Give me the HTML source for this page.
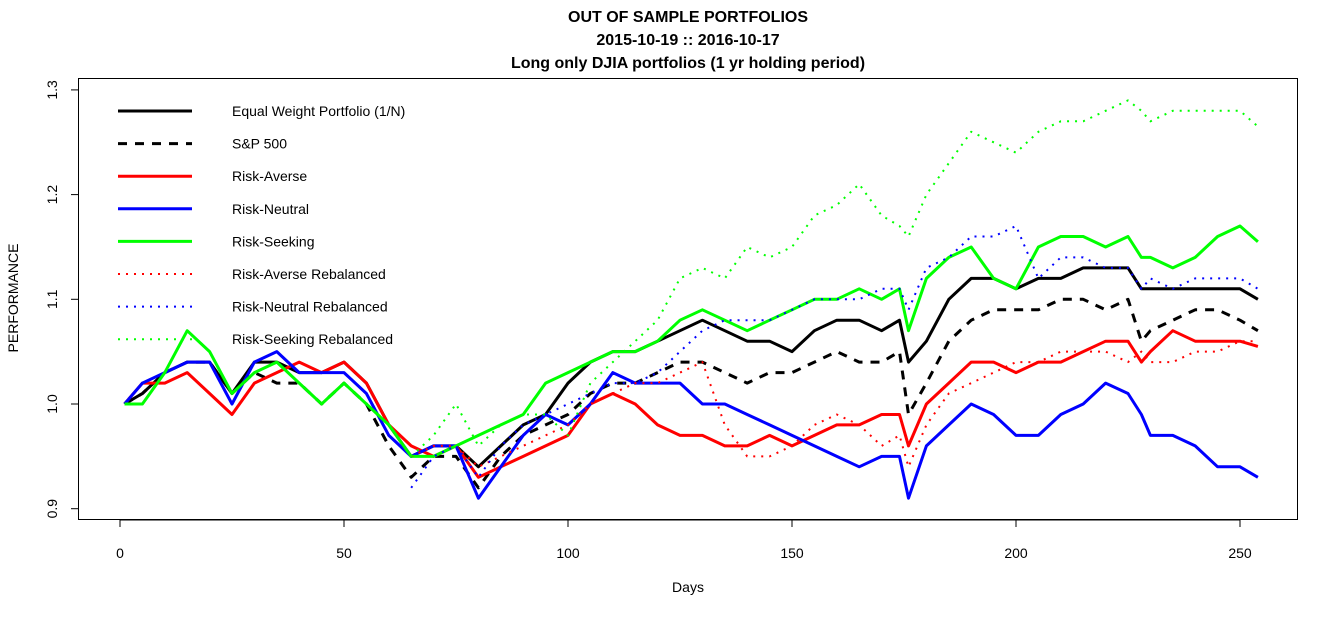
<!DOCTYPE html>
<html><head><meta charset="utf-8"><style>
body{margin:0;background:#fff;font-family:"Liberation Sans",Arial,sans-serif}
svg text{font-family:"Liberation Sans",Arial,sans-serif}
</style></head><body>
<svg id="c" width="1340" height="617" xmlns="http://www.w3.org/2000/svg">
<rect width="1340" height="617" fill="#fff"/>
<g font-weight="bold" font-size="16" text-anchor="middle">
<text x="688" y="22">OUT OF SAMPLE PORTFOLIOS</text>
<text x="688" y="45">2015-10-19 :: 2016-10-17</text>
<text x="688" y="68">Long only DJIA portfolios (1 yr holding period)</text>
</g>
<rect x="78.5" y="78.5" width="1219" height="441" fill="none" stroke="#000" stroke-width="1"/>
<g id="axes"></g>
<g id="series"></g>
<g id="legend"></g>
<text x="688" y="592" font-size="14" text-anchor="middle">Days</text>
<text transform="translate(18,298) rotate(-90)" font-size="14" text-anchor="middle">PERFORMANCE</text>
</svg>
<script>
const days=[1,5,10,15,20,25,30,35,40,45,50,55,60,65,70,75,80,85,90,95,100,105,110,115,120,125,130,135,140,145,150,155,160,165,170,174,176,180,185,190,195,200,205,210,215,220,225,228,230,235,240,245,250,254];
const xTicks=[0,50,100,150,200,250];
const yTicks=[0.9,1.0,1.1,1.2,1.3];
const yTickLabels=["0.9","1.0","1.1","1.2","1.3"];
const eqw=[1.00,1.01,1.03,1.04,1.04,1.01,1.04,1.04,1.03,1.03,1.04,1.02,0.98,0.95,0.96,0.96,0.94,0.96,0.98,0.99,1.02,1.04,1.05,1.05,1.06,1.07,1.08,1.07,1.06,1.06,1.05,1.07,1.08,1.08,1.07,1.08,1.04,1.06,1.10,1.12,1.12,1.11,1.12,1.12,1.13,1.13,1.13,1.11,1.11,1.11,1.11,1.11,1.11,1.10];
const sp500=[1.00,1.01,1.03,1.04,1.04,1.01,1.03,1.02,1.02,1.00,1.02,1.00,0.96,0.93,0.95,0.95,0.92,0.95,0.97,0.98,0.99,1.01,1.02,1.02,1.03,1.04,1.04,1.03,1.02,1.03,1.03,1.04,1.05,1.04,1.04,1.05,0.99,1.02,1.06,1.08,1.09,1.09,1.09,1.10,1.10,1.09,1.10,1.06,1.07,1.08,1.09,1.09,1.08,1.07];
const riskAverse=[1.00,1.02,1.02,1.03,1.01,0.99,1.02,1.03,1.04,1.03,1.04,1.02,0.98,0.96,0.95,0.96,0.93,0.94,0.95,0.96,0.97,1.00,1.01,1.00,0.98,0.97,0.97,0.96,0.96,0.97,0.96,0.97,0.98,0.98,0.99,0.99,0.96,1.00,1.02,1.04,1.04,1.03,1.04,1.04,1.05,1.06,1.06,1.04,1.05,1.07,1.06,1.06,1.06,1.055];
const riskNeutral=[1.00,1.02,1.03,1.04,1.04,1.00,1.04,1.05,1.03,1.03,1.03,1.01,0.97,0.95,0.96,0.96,0.91,0.94,0.97,0.99,0.98,1.00,1.03,1.02,1.02,1.02,1.00,1.00,0.99,0.98,0.97,0.96,0.95,0.94,0.95,0.95,0.91,0.96,0.98,1.00,0.99,0.97,0.97,0.99,1.00,1.02,1.01,0.99,0.97,0.97,0.96,0.94,0.94,0.93];
const riskSeeking=[1.00,1.00,1.03,1.07,1.05,1.01,1.03,1.04,1.02,1.00,1.02,1.00,0.98,0.95,0.95,0.96,0.97,0.98,0.99,1.02,1.03,1.04,1.05,1.05,1.06,1.08,1.09,1.08,1.07,1.08,1.09,1.10,1.10,1.11,1.10,1.11,1.07,1.12,1.14,1.15,1.12,1.11,1.15,1.16,1.16,1.15,1.16,1.14,1.14,1.13,1.14,1.16,1.17,1.155];
const raReb=[null,null,null,null,null,null,null,null,null,null,null,null,null,0.95,0.96,0.96,0.94,0.95,0.96,0.97,0.98,1.00,1.01,1.02,1.02,1.03,1.04,0.98,0.95,0.95,0.96,0.98,0.99,0.98,0.96,0.97,0.94,0.98,1.01,1.02,1.03,1.04,1.04,1.05,1.05,1.05,1.04,1.05,1.04,1.04,1.05,1.05,1.06,1.06];
const rnReb=[null,null,null,null,null,null,null,null,null,null,null,null,null,0.92,0.95,0.96,0.93,0.96,0.98,0.99,1.00,1.01,1.02,1.02,1.03,1.05,1.07,1.08,1.08,1.08,1.09,1.10,1.10,1.10,1.11,1.11,1.09,1.13,1.14,1.16,1.16,1.17,1.12,1.14,1.14,1.13,1.13,1.11,1.12,1.11,1.12,1.12,1.12,1.11];
const rsReb=[null,null,null,null,null,null,null,null,null,null,null,null,null,0.95,0.97,1.00,0.96,0.98,0.99,0.99,0.97,1.02,1.04,1.06,1.08,1.12,1.13,1.12,1.15,1.14,1.15,1.18,1.19,1.21,1.18,1.17,1.16,1.20,1.23,1.26,1.25,1.24,1.26,1.27,1.27,1.28,1.29,1.28,1.27,1.28,1.28,1.28,1.28,1.265];
const names=["Equal Weight Portfolio (1/N)","S&P 500","Risk-Averse","Risk-Neutral","Risk-Seeking","Risk-Averse Rebalanced","Risk-Neutral Rebalanced","Risk-Seeking Rebalanced"];
const seriesData=[eqw,sp500,riskAverse,riskNeutral,riskSeeking,raReb,rnReb,rsReb];
const colors=["#000","#000","#f00","#00f","#0f0","#f00","#00f","#0f0"];
const dashes=["","9,8","","","","2,6","2,6","2,6"];
const widths=[3,3,3,3,3,2,2,2];
const keys=["equal-weight","sp500","risk-averse","risk-neutral","risk-seeking","risk-averse-rebalanced","risk-neutral-rebalanced","risk-seeking-rebalanced"];
const NS="http://www.w3.org/2000/svg";
function xs(d){return 120+4.48*d;}
function ys(v){return 404-(v-1.0)*1047;}
function mk(t,a){const e=document.createElementNS(NS,t);for(const k in a)e.setAttribute(k,a[k]);return e;}
const axes=document.getElementById('axes');
const xl=mk('line',{x1:xs(0),x2:xs(250),y1:520,y2:520,stroke:'#000'});


axes.appendChild(xl);
xTicks.forEach(t=>{
 const l=mk('line',{x1:xs(t),x2:xs(t),y1:520,y2:527,stroke:'#000'});
 
 
 axes.appendChild(l);
 const tx=mk('text',{x:xs(t),y:558,'font-size':14,'text-anchor':'middle'});
 
 
 tx.textContent=t;axes.appendChild(tx);
});
yTicks.forEach((t,i)=>{
 const l=mk('line',{x1:71,x2:79,y1:ys(t),y2:ys(t),stroke:'#000'});
 
 
 axes.appendChild(l);
 const tx=mk('text',{transform:`translate(57,${ys(t)}) rotate(-90)`,'font-size':14,'text-anchor':'middle'});
 
 
 tx.textContent=yTickLabels[i];axes.appendChild(tx);
});
const sg=document.getElementById('series');
seriesData.forEach((s,i)=>{
 let d='';let pen=false;
 s.forEach((v,j)=>{if(v==null){pen=false;return;}d+=(pen?'L':'M')+xs(days[j]).toFixed(1)+','+ys(v).toFixed(1);pen=true;});
 const p=mk('path',{d:d,fill:'none',stroke:colors[i],'stroke-width':widths[i],'stroke-dasharray':dashes[i],'stroke-linejoin':'round'});
 
 
 sg.appendChild(p);
});
const lg=document.getElementById('legend');
names.forEach((n,i)=>{
 const y=111+32.6*i;
 const l=mk('line',{x1:118,x2:192,y1:y,y2:y,stroke:colors[i],'stroke-width':widths[i],'stroke-dasharray':dashes[i]});
 
 
 lg.appendChild(l);
 const t=mk('text',{x:232,y:y+5,'font-size':14});
 
 
 t.textContent=n;lg.appendChild(t);
});
</script>
</body></html>
